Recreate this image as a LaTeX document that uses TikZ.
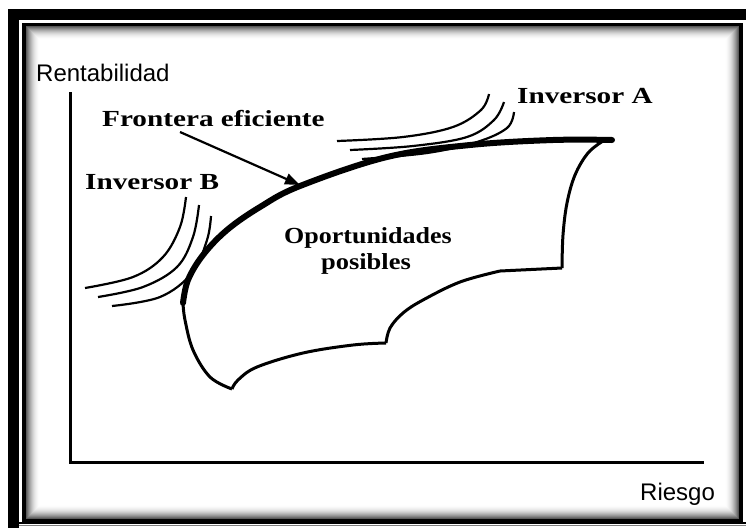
\documentclass[tikz,border=0pt]{standalone}
\usepackage{fontspec}
\setmainfont{Liberation Serif}
\newfontfamily\arialf{Liberation Sans}
\usetikzlibrary{arrows.meta}
\tikzset{
  axislbl/.style={inner sep=0pt, anchor=base west, font=\arialf\fontsize{24}{26}\selectfont},
  serlbl/.style={inner sep=0pt, anchor=base west, font=\bfseries\fontsize{23}{25}\selectfont},
  frontline/.style={line width=6pt, line cap=round},
  bound/.style={line width=3pt, line join=round},
  indiff/.style={line width=2.2pt},
  axisline/.style={line width=3pt}
}
\newcommand{\wtxt}[1]{\scalebox{1.27}[1]{#1}}
\begin{document}
\begin{tikzpicture}[x=1pt,y=-1pt]
\useasboundingbox (0,0) rectangle (746,528);
% frame
\fill[black] (8,9) rectangle (746,20);
\fill[black] (8,9) rectangle (19,528);
\foreach \i in {0,...,13}{
  \pgfmathsetmacro\shd{65*(1-\i/14)^2}
  \draw[black!\shd, line width=1.05pt] (26.25+\i+0.5, 26.25+\i+0.5) rectangle (738.75-\i-0.5, 518.75-\i-0.5);
}
\draw[line width=3.5pt] (24,24.5) rectangle (741,520.5);
\fill[black] (19,522) rectangle (746,524);
\draw[gray, line width=1.5pt] (19,525.5) -- (746,525.5);
% axes
\coordinate (ytop) at (70,92);
\coordinate (orig) at (70,462);
\coordinate (xend) at (704,462);
\draw[axisline] (ytop) -- (orig) -- (xend);
\node[axislbl] (rent) at (36,81) {Rentabilidad};
\node[axislbl] (ries) at (640,500) {Riesgo};
% opportunity set boundary
\draw[bound] plot[smooth, tension=0.6] coordinates {(603,141) (588,153) (575,175) (567,203) (563,235) (562,268)};
\draw[bound] (562,268) -- (500,271);
\draw[bound] plot[smooth, tension=0.6] coordinates {(500,271) (460,282) (423,300) (403,313) (390,328) (386,343)};
\draw[bound] plot[smooth, tension=0.6] coordinates {(386,343) (353,345) (303,353) (257,367) (238,380) (232,389)};
\draw[bound] plot[smooth, tension=0.6] coordinates {(232,389) (210,377) (193,350) (185,320) (183,303)};
% efficient frontier
\draw[frontline] plot[smooth, tension=0.6] coordinates {(183,303) (188,280) (203,255) (227,230) (260,207) (300,186) (387,157) (470,145) (553,140) (612,140)};
% indifference curves B
\draw[indiff] plot[smooth, tension=0.6] coordinates {(186,197) (180,227) (163,257) (133,277) (85,288)};
\draw[indiff] plot[smooth, tension=0.6] coordinates {(199,205) (193,237) (177,267) (143,287) (98,297)};
\draw[indiff] plot[smooth, tension=0.6] coordinates {(211,216) (207,240) (192,273) (160,297) (112,306)};
% indifference curves A
\draw[indiff] plot[smooth, tension=0.6] coordinates {(489,94) (481,110) (453,127) (403,137) (337,141)};
\draw[indiff] plot[smooth, tension=0.6] coordinates {(504,102) (494,120) (467,137) (413,146) (350,150)};
\draw[indiff] plot[smooth, tension=0.6] coordinates {(514,112) (507,128) (477,142) (427,153) (362,159)};
% labels
\node[serlbl] (front) at (102,126) {\wtxt{Frontera eficiente}};
\node[serlbl] (invb) at (85,189) {\wtxt{Inversor B}};
\node[serlbl] (inva) at (517,103) {\wtxt{Inversor A}};
\node[serlbl, anchor=base] (opo) at (368,243) {\scalebox{1.13}[1]{Oportunidades}};
\node[serlbl, anchor=base] (pos) at (366,269) {\scalebox{1.15}[1]{posibles}};
% arrow
\coordinate (arrs) at (180,132);
\coordinate (arrt) at (300,185);
\draw[line width=2.2pt, -{Triangle[length=15pt,width=11pt]}] (arrs) -- (arrt);
\end{tikzpicture}
\end{document}
